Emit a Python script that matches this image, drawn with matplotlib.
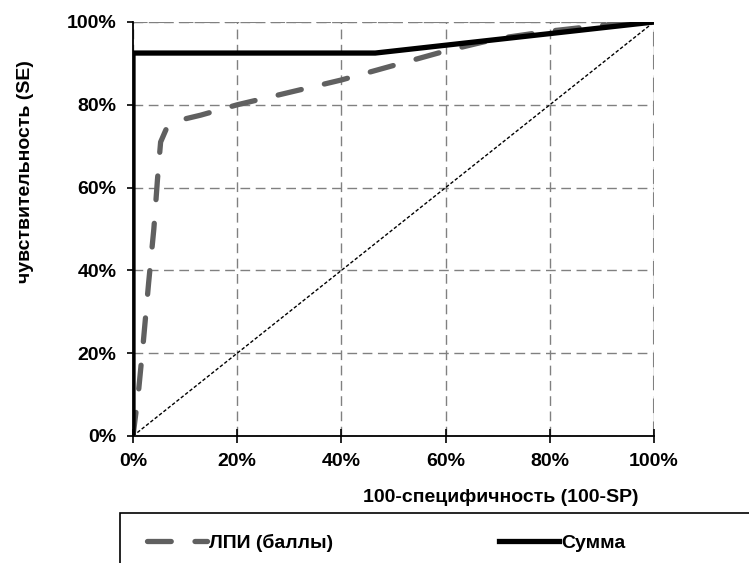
import matplotlib.pyplot as plt
from matplotlib.patches import Rectangle

plt.rcParams['font.family'] = ['Liberation Sans', 'DejaVu Sans']
plt.rcParams['font.weight'] = 'bold'

# ROC data (percent)
lpi_x = [0, 1, 2, 3, 4, 4.7, 5.3, 6.5, 9, 13, 20, 30, 40, 50, 60, 70, 80, 90, 100]
lpi_y = [0, 10, 23, 37, 50, 62, 71, 74.5, 76.3, 77.5, 80, 83, 86, 89.5, 93, 96, 97.8, 99.2, 100]
sum_x = [0, 0, 46.5, 100]
sum_y = [0, 92.5, 92.5, 100]
diag = [0, 100]
ticks = [0, 20, 40, 60, 80, 100]
tick_labels = ['0%', '20%', '40%', '60%', '80%', '100%']

fs = 14
fig = plt.figure(figsize=(7.49, 5.63), dpi=100)
ax = fig.add_axes([133 / 749, 1 - 436 / 563, 521 / 749, 414 / 563])

ax.plot(diag, diag, color='black', lw=1, dashes=(2.5, 1.5), zorder=3)
ax.plot(lpi_x, lpi_y, color='#606060', lw=3.8, dashes=(4.5, 4.5),
        dash_capstyle='round', zorder=4, label='ЛПИ (баллы)')
ax.plot(sum_x, sum_y, color='black', lw=3.8, zorder=5, label='Сумма')

ax.set_xlim(0, 100)
ax.set_ylim(0, 100)
ax.set_xticks(ticks)
ax.set_yticks(ticks)
ax.set_xticklabels(tick_labels, fontsize=fs, fontweight='bold')
ax.set_yticklabels(tick_labels, fontsize=fs, fontweight='bold')
ax.tick_params(axis='y', direction='out', length=4, width=1.2, pad=8)
ax.tick_params(axis='x', direction='inout', length=10, width=1.2, pad=7)

ax.grid(True, color='#808080', lw=1, dashes=(7, 4))
for side in ['top', 'right']:
    ax.spines[side].set_visible(False)
ax.axhline(100, color='#808080', lw=1.5, dashes=(7, 4), zorder=1)
ax.axvline(100, color='#808080', lw=1.5, dashes=(7, 4), zorder=1)
ax.spines['left'].set_linewidth(1.3)
ax.spines['bottom'].set_linewidth(1.3)

fig.text(26 / 749, 1 - 172 / 563, 'чувствительность (SE)', fontsize=fs,
         fontweight='bold', rotation=90, ha='center', va='center')
fig.text(501 / 749, 1 - 497 / 563, '100-специфичность (100-SP)', fontsize=fs,
         fontweight='bold', ha='center', va='center')

# legend box running off the figure edge
fig.patches.append(Rectangle((120 / 749, -0.1), 1.0, 0.1 + (563 - 513) / 563,
                             transform=fig.transFigure, fill=False,
                             edgecolor='black', lw=1.2, clip_on=False))
fig.legend(loc='center', bbox_to_anchor=(386 / 749, 1 - 543 / 563), ncol=2,
           frameon=False, handlelength=3.1, handletextpad=0.1,
           columnspacing=8.5, prop={'weight': 'bold', 'size': fs})

fig.savefig('out.png', dpi=100)
